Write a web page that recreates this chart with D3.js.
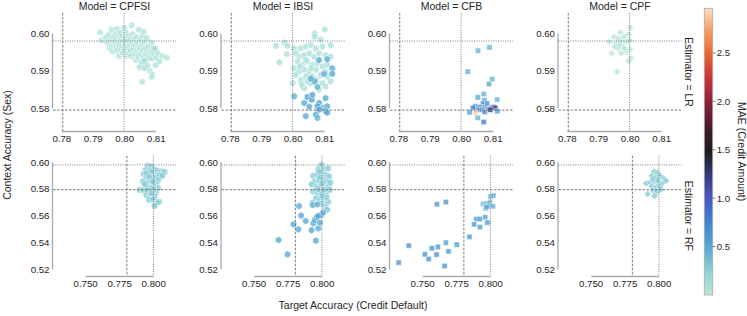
<!DOCTYPE html>
<html>
<head>
<meta charset="utf-8">
<script src="https://cdn.jsdelivr.net/npm/d3@7"></script>
<style>
  body { margin: 0; background: #fff; }
  text { font-family: "Liberation Sans", Arial, sans-serif; fill: #262626; }
</style>
</head>
<body>
<svg id="chart" width="747" height="316"></svg>
<script>
// ---- data ----
const models = ["CPFSI", "IBSI", "CFB", "CPF"];
const estimators = ["LR", "RF"];
const xTicksLR = [0.78, 0.79, 0.80, 0.81];
const yTicksLR = [0.58, 0.59, 0.60];
const xTicksRF = [0.750, 0.775, 0.800];
const yTicksRF = [0.52, 0.54, 0.56, 0.58, 0.60];
const refX = [0.7803, 0.7998];   // first dashed, second dotted
const refY = [0.5795, 0.598];    // first dashed, second dotted
const maeTicks = [0.5, 1.0, 1.5, 2.0, 2.5];

// [target accuracy, context accuracy, MAE]
const cpfsiLR = [
  [0.7922,0.6003,.05],[0.7927,0.5982,.05],[0.7940,0.5990,.05],[0.7945,0.5975,.05],[0.7950,0.5996,.05],
  [0.7952,0.5962,.05],[0.7955,0.5985,.05],[0.7958,0.6010,.05],[0.7960,0.5970,.05],[0.7962,0.5952,.05],
  [0.7965,0.5990,.05],[0.7967,0.5978,.05],[0.7970,0.5998,.05],[0.7972,0.5965,.05],[0.7974,0.5985,.05],
  [0.7975,0.6012,.05],[0.7976,0.5955,.05],[0.7978,0.5975,.05],[0.7980,0.5995,.05],[0.7982,0.5940,.05],
  [0.7983,0.5968,.05],[0.7985,0.6003,.05],[0.7986,0.5985,.05],[0.7988,0.5958,.05],[0.7990,0.5975,.05],
  [0.7992,0.5992,.05],[0.7994,0.5948,.05],[0.7995,0.5965,.05],[0.7997,0.5982,.05],[0.7998,0.6015,.05],
  [0.8000,0.5955,.05],[0.8002,0.5972,.05],[0.8003,0.5990,.05],[0.8005,0.6002,.05],[0.8006,0.5940,.05],
  [0.8008,0.5962,.05],[0.8010,0.5980,.05],[0.8012,0.5948,.05],[0.8013,0.5993,.05],[0.8015,0.5968,.05],
  [0.8017,0.5985,.05],[0.8018,0.5955,.05],[0.8020,0.5940,.05],[0.8022,0.6022,.05],[0.8023,0.5975,.05],
  [0.8025,0.5998,.05],[0.8027,0.5960,.05],[0.8030,0.5985,.05],[0.8032,0.5945,.05],[0.8033,0.5970,.05],
  [0.8035,0.5930,.05],[0.8037,0.5990,.05],[0.8040,0.5955,.05],[0.8042,0.5975,.05],[0.8043,0.5938,.05],
  [0.8045,0.6010,.05],[0.8047,0.5962,.05],[0.8050,0.5985,.05],[0.8052,0.5945,.05],[0.8053,0.5925,.05],
  [0.8055,0.5970,.05],[0.8055,0.5917,.05],[0.8057,0.5995,.05],[0.8058,0.5955,.05],[0.8060,0.6005,.05],
  [0.8060,0.5935,.05],[0.8062,0.5978,.05],[0.8064,0.5926,.2],[0.8064,0.5908,.2],[0.8055,0.5871,.05],
  [0.8066,0.5960,.05],[0.8068,0.5945,.05],[0.8070,0.5988,.05],[0.8072,0.5915,.05],[0.8075,0.5965,.05],
  [0.8078,0.5935,.05],[0.8080,0.5900,.05],[0.8082,0.5952,.05],[0.8085,0.5975,.05],[0.8086,0.5933,.05],
  [0.8088,0.5890,.05],[0.8090,0.5960,.05],[0.8092,0.5945,.05],[0.8096,0.5959,.2],[0.8100,0.5935,.05],
  [0.8105,0.5948,.05],[0.8110,0.5925,.05],[0.8120,0.5940,.05],[0.8134,0.5935,.05],[0.8098,0.5915,.05],
  [0.8048,0.5910,.05],[0.8086,0.5884,.05]
];
const ibsiLR = [
  [0.8100,0.6011,.08],[0.8068,0.6000,.08],[0.8068,0.5991,.08],[0.8087,0.5984,.08],[0.7945,0.5967,.08],
  [0.7972,0.5976,.08],[0.7982,0.5967,.08],[0.7956,0.5923,.08],[0.7980,0.5945,.08],[0.8003,0.5960,.08],
  [0.8008,0.5947,.08],[0.8024,0.5960,.08],[0.8040,0.5965,.08],[0.8056,0.5969,.08],[0.8072,0.5960,.08],
  [0.8093,0.5965,.08],[0.8119,0.5969,.08],[0.8019,0.5938,.08],[0.8035,0.5942,.08],[0.8051,0.5947,.08],
  [0.8066,0.5938,.08],[0.8082,0.5947,.08],[0.8103,0.5942,.08],[0.8119,0.5938,.08],[0.8014,0.5925,.08],
  [0.8029,0.5916,.08],[0.8045,0.5925,.08],[0.8061,0.5916,.08],[0.8077,0.5920,.08],[0.8093,0.5912,.08],
  [0.8108,0.5916,.08],[0.8003,0.5907,.08],[0.8019,0.5898,.08],[0.8035,0.5903,.08],[0.8051,0.5894,.08],
  [0.8072,0.5903,.08],[0.8087,0.5889,.08],[0.8108,0.5885,.08],[0.8119,0.5872,.08],[0.7998,0.5867,.08],
  [0.8024,0.5876,.08],[0.8040,0.5885,.08],[0.8056,0.5867,.08],[0.8093,0.5867,.08],[0.8103,0.5858,.08],
  [0.8035,0.5854,.08],[0.8082,0.5850,.08],[0.8008,0.5889,.08],[0.8061,0.5885,.08],[0.8045,0.5872,.08],
  [0.8027,0.5863,.08],[0.8074,0.5876,.08],[0.8101,0.5898,.08],[0.8056,0.5907,.08],[0.8040,0.5929,.08],
  [0.8021,0.5912,.08],
  [0.8082,0.5929,.5],[0.8108,0.5931,.5],[0.8124,0.5907,.5],[0.8124,0.5892,.5],[0.8098,0.5892,.45],
  [0.8068,0.5872,.5],[0.8077,0.5857,.45],[0.8056,0.5879,.5],[0.8003,0.5832,.45],[0.8045,0.5830,.55],
  [0.8059,0.5823,.55],[0.8035,0.5814,.5],[0.8061,0.5836,.5],[0.8082,0.5814,.55],[0.8103,0.5827,.5],
  [0.8077,0.5805,.55],[0.8095,0.5801,.5],[0.8108,0.5805,.5],[0.8103,0.5792,.55],[0.8082,0.5796,.55],
  [0.8072,0.5783,.5],[0.8040,0.5779,.5],[0.8077,0.5774,.45],[0.8108,0.5788,.5],[0.8051,0.5804,.5]
];
const cfbLR = [
  [0.8052,0.5954,.45],[0.8088,0.5963,.45],[0.8019,0.5898,.45],[0.8097,0.5878,.45],[0.8087,0.5865,.5],
  [0.8070,0.5838,.45],[0.8051,0.5829,.5],[0.8072,0.5821,.55],[0.8113,0.5823,.45],[0.8068,0.5812,.7],
  [0.8043,0.5805,.75],[0.8057,0.5803,.7],[0.8075,0.5803,.85],[0.8036,0.5801,.75],[0.8054,0.5796,.7],
  [0.8086,0.5798,.8],[0.8097,0.5801,1.2],[0.8102,0.5803,1.25],[0.8107,0.5801,1.1],[0.8091,0.5796,1.2],
  [0.8065,0.5796,.55],[0.8025,0.5789,.55],[0.8043,0.5788,2.9],[0.8113,0.5792,.55],[0.8051,0.5774,.45],
  [0.8070,0.5763,.8],[0.8073,0.5790,.65],[0.8081,0.5813,.6]
];
const cpfLR = [
  [0.8000,0.6016,.03],[0.7969,0.6003,.03],[0.7995,0.5998,.03],[0.7948,0.5991,.03],[0.7934,0.5978,.03],
  [0.7961,0.5987,.03],[0.7980,0.5991,.03],[0.7971,0.5978,.03],[0.7955,0.5973,.03],[0.7987,0.5978,.03],
  [0.7998,0.5982,.03],[0.7976,0.5965,.03],[0.7962,0.5960,.03],[0.7941,0.5947,.03],[0.8000,0.5958,.03],
  [0.7987,0.5951,.03],[0.7971,0.5947,.03],[0.8002,0.5934,.03],[0.7995,0.5927,.03],[0.7959,0.5898,.03],
  [0.7966,0.5969,.03],[0.7982,0.5960,.03],[0.7950,0.5965,.03]
];
const cpfsiRF = [
  [0.7959,0.5973,.28],[0.7983,0.5968,.28],[0.7941,0.5943,.28],[0.7971,0.5938,.28],[0.8000,0.5948,.28],
  [0.8024,0.5938,.28],[0.8056,0.5930,.28],[0.8080,0.5928,.28],[0.7927,0.5913,.28],[0.7959,0.5905,.28],
  [0.7990,0.5913,.28],[0.8020,0.5898,.28],[0.8044,0.5905,.28],[0.7946,0.5880,.28],[0.7976,0.5873,.28],
  [0.8007,0.5880,.28],[0.8032,0.5868,.28],[0.7922,0.5856,.28],[0.7959,0.5848,.28],[0.7990,0.5843,.28],
  [0.8020,0.5838,.28],[0.7941,0.5818,.28],[0.7971,0.5813,.28],[0.8000,0.5823,.28],[0.8032,0.5806,.28],
  [0.7898,0.5793,.28],[0.7927,0.5788,.28],[0.7959,0.5781,.28],[0.7990,0.5788,.28],[0.8015,0.5773,.28],
  [0.7946,0.5756,.28],[0.7976,0.5748,.28],[0.8007,0.5743,.28],[0.7966,0.5719,.28],[0.7995,0.5724,.28],
  [0.8020,0.5694,.28],[0.8039,0.5704,.28],[0.8007,0.5674,.28],[0.7983,0.5930,.28],[0.7946,0.5918,.28],
  [0.7995,0.5856,.28],[0.7934,0.5838,.28],[0.7983,0.5806,.28],[0.7966,0.5893,.28],[0.8000,0.5798,.28],
  [0.7951,0.5793,.28],[0.8063,0.5898,.28],[0.7983,0.5768,.28]
];
const ibsiRF = [
  [0.7995,0.5980,.28],[0.7971,0.5948,.28],[0.8012,0.5948,.28],[0.8044,0.5955,.28],[0.7934,0.5898,.28],
  [0.7964,0.5905,.28],[0.7995,0.5918,.28],[0.8027,0.5905,.28],[0.8051,0.5893,.28],[0.7946,0.5855,.28],
  [0.7978,0.5863,.28],[0.8007,0.5873,.28],[0.8036,0.5855,.28],[0.7922,0.5835,.28],[0.7959,0.5818,.28],
  [0.7988,0.5823,.28],[0.8019,0.5806,.28],[0.8046,0.5818,.28],[0.7934,0.5781,.28],[0.7966,0.5768,.28],
  [0.7998,0.5773,.28],[0.8027,0.5763,.28],[0.7954,0.5731,.28],[0.7983,0.5723,.28],[0.8012,0.5718,.28],
  [0.8044,0.5706,.28],[0.7930,0.5698,.3],[0.8024,0.5668,.3],[0.8036,0.5644,.3],[0.7995,0.5688,.28],
  [0.7978,0.5930,.28],[0.8000,0.5840,.28],[0.7971,0.5798,.28],[0.8031,0.5738,.28],[0.8061,0.5848,.28],
  [0.7983,0.5888,.28],[0.8014,0.5793,.28],[0.7946,0.5681,.3],[0.8000,0.5748,.28],[0.8056,0.5793,.28],
  [0.7680,0.5419,.5],[0.7745,0.5312,.5],[0.7830,0.5673,.5],[0.7845,0.5601,.5],[0.7789,0.5536,.5],
  [0.7825,0.5499,.5],[0.7879,0.5561,.5],[0.7922,0.5492,.5],[0.7934,0.5544,.5],[0.7946,0.5569,.5],
  [0.7959,0.5589,.5],[0.7971,0.5506,.5],[0.7954,0.5414,.5],[0.7983,0.5549,.5],[0.7995,0.5606,.45],
  [0.8007,0.5624,.45],[0.7930,0.5681,.45],[0.7964,0.5686,.45],[0.7971,0.5599,.5]
];
const cfbRF = [
  [0.7324,0.5250,.62],[0.7398,0.5377,.62],[0.7517,0.5312,.62],[0.7544,0.5277,.62],[0.7568,0.5357,.62],
  [0.7602,0.5310,.62],[0.7612,0.5367,.62],[0.7605,0.5686,.62],[0.7671,0.5703,.62],[0.7661,0.5225,.62],
  [0.7671,0.5399,.58],[0.7690,0.5334,.58],[0.7751,0.5384,.58],[0.7844,0.5442,.58],[0.7878,0.5536,.58],
  [0.7895,0.5576,.58],[0.7920,0.5576,.58],[0.7920,0.5516,.58],[0.7959,0.5589,.55],[0.7976,0.5549,.55],
  [0.7944,0.5688,.45],[0.7963,0.5688,.45],[0.7978,0.5693,.45],[0.7995,0.5698,.45],[0.7988,0.5676,.5],
  [0.7963,0.5656,.5],[0.8000,0.5743,.45],[0.8020,0.5751,.45],[0.8017,0.5671,.45],[0.7971,0.5666,.5]
];
const cpfRF = [
  [0.7963,0.5930,.28],[0.7988,0.5918,.28],[0.7946,0.5898,.28],[0.7978,0.5888,.28],[0.8007,0.5898,.28],
  [0.8032,0.5880,.28],[0.7905,0.5843,.28],[0.7934,0.5848,.28],[0.7963,0.5855,.28],[0.7995,0.5848,.28],
  [0.8022,0.5843,.28],[0.8051,0.5863,.28],[0.7946,0.5818,.28],[0.7978,0.5813,.28],[0.8007,0.5818,.28],
  [0.7956,0.5788,.28],[0.7985,0.5781,.28],[0.7915,0.5763,.28],[0.7966,0.5748,.28],[0.7954,0.5873,.28],
  [0.7988,0.5868,.28],[0.8012,0.5796,.28]
];

const panelData = {
  LR: { CPFSI: cpfsiLR, IBSI: ibsiLR, CFB: cfbLR, CPF: cpfLR },
  RF: { CPFSI: cpfsiRF, IBSI: ibsiRF, CFB: cfbRF, CPF: cpfRF }
};

// ---- icefire-like colour map ----
const iceAt = [0, 0.08, 0.17, 0.25, 0.33, 0.42, 0.50, 0.58, 0.67, 0.76, 0.85, 0.93, 1];
const iceColors = ["#bde7db", "#8fd3d7", "#55a8d2", "#3f86d2", "#4a5bc8", "#35397a", "#1c1b20",
                   "#431a2a", "#8a1f3a", "#cc343a", "#ef6b2c", "#f6a26b", "#fde0c6"];
const iceInterp = d3.scaleLinear().domain(iceAt).range(iceColors).interpolate(d3.interpolateRgb);
const color = d3.scaleSequential(t => iceInterp(t)).domain([0, 2.96]);

// ---- layout ----
const svg = d3.select("#chart");
const panelW = 123, colStep = 168.5, left0 = 53;
const rows = [
  { top: 13, bottom: 131, xDom: [0.7772, 0.8163], yDom: [0.5739, 0.6055],
    xTicks: xTicksLR, yTicks: yTicksLR, fx: d3.format(".2f"), fy: d3.format(".2f") },
  { top: 155.7, bottom: 276, xDom: [0.7260, 0.8164], yDom: [0.5150, 0.6049],
    xTicks: xTicksRF, yTicks: yTicksRF, fx: d3.format(".3f"), fy: d3.format(".2f") }
];

const symbolHex = {
  draw(ctx, size) {
    const r = Math.sqrt(2 * size / (3 * Math.sqrt(3)));
    for (let i = 0; i < 6; i++) {
      const a = -Math.PI / 2 + i * Math.PI / 3;
      if (i === 0) ctx.moveTo(r * Math.cos(a), r * Math.sin(a));
      else ctx.lineTo(r * Math.cos(a), r * Math.sin(a));
    }
    ctx.closePath();
  }
};
const markers = {
  CPFSI: { type: d3.symbolCircle, size: 34, rot: 0 },
  IBSI: { type: symbolHex, size: 34, rot: 0 },
  CFB: { type: d3.symbolSquare, size: 28, rot: 0 },
  CPF: { type: d3.symbolSquare, size: 26, rot: 45 }
};

const spineColor = "#aaaaaa", refColor = "#7a7a7a";

estimators.forEach((est, r) => {
  const row = rows[r];
  models.forEach((model, c) => {
    const left = left0 + c * colStep;
    const x = d3.scaleLinear().domain(row.xDom).range([left, left + panelW]);
    const y = d3.scaleLinear().domain(row.yDom).range([row.bottom, row.top]);
    const g = svg.append("g");

    // trimmed spines
    g.append("line")
      .attr("x1", left - 0.5).attr("x2", left - 0.5)
      .attr("y1", y(d3.min(row.yTicks))).attr("y2", y(d3.max(row.yTicks)))
      .attr("stroke", spineColor).attr("stroke-width", 1.3);
    g.append("line")
      .attr("y1", row.bottom + 0.5).attr("y2", row.bottom + 0.5)
      .attr("x1", x(d3.min(row.xTicks))).attr("x2", x(d3.max(row.xTicks)))
      .attr("stroke", spineColor).attr("stroke-width", 1.3);

    g.selectAll(".yt").data(row.yTicks).enter().append("text")
      .attr("x", left - 3.5).attr("y", d => y(d)).attr("dy", "0.35em")
      .attr("text-anchor", "end").attr("font-size", 9.7)
      .text(row.fy);
    g.selectAll(".xt").data(row.xTicks).enter().append("text")
      .attr("x", d => x(d)).attr("y", row.bottom + 11)
      .attr("text-anchor", "middle").attr("font-size", 9.7)
      .text(row.fx);

    // points
    const mk = markers[model];
    const sym = d3.symbol().type(mk.type).size(mk.size);
    g.append("g").selectAll("path").data(panelData[est][model]).enter().append("path")
      .attr("d", sym)
      .attr("transform", d => `translate(${x(d[0])},${y(d[1])}) rotate(${mk.rot})`)
      .attr("fill", d => color(d[2]))
      .attr("fill-opacity", 0.78)
      .attr("stroke", "#fff").attr("stroke-width", 0.5);

    // reference lines (drawn on top of points)
    refX.forEach((v, i) => {
      g.append("line")
        .attr("x1", x(v)).attr("x2", x(v)).attr("y1", row.top).attr("y2", row.bottom)
        .attr("stroke", refColor).attr("stroke-width", 1)
        .attr("stroke-dasharray", i === 0 ? "2.5,1.5" : "1,1.4");
    });
    refY.forEach((v, i) => {
      g.append("line")
        .attr("y1", y(v)).attr("y2", y(v)).attr("x1", left).attr("x2", left + panelW)
        .attr("stroke", refColor).attr("stroke-width", 1)
        .attr("stroke-dasharray", i === 0 ? "2.5,1.5" : "1,1.4");
    });

    if (r === 0) {
      svg.append("text")
        .attr("x", left + panelW / 2).attr("y", 10)
        .attr("text-anchor", "middle").attr("font-size", 10.5)
        .text(`Model = ${model}`);
    }
  });
  svg.append("text")
    .attr("transform", `translate(684.5,${(row.top + row.bottom) / 2}) rotate(90)`)
    .attr("text-anchor", "middle").attr("font-size", 10.5)
    .text(`Estimator = ${est}`);
});

// axis labels
svg.append("text")
  .attr("x", 353).attr("y", 309)
  .attr("text-anchor", "middle").attr("font-size", 10.5)
  .text("Target Accuracy (Credit Default)");
svg.append("text")
  .attr("transform", "translate(10.5,145) rotate(-90)")
  .attr("text-anchor", "middle").attr("font-size", 10.5)
  .text("Context Accuracy (Sex)");

// ---- colour bar ----
const cbX = 704.3, cbW = 8.4, cbTop = 8.3, cbBottom = 295;
const cbScale = d3.scaleLinear().domain(color.domain()).range([cbBottom, cbTop]);
const grad = svg.append("defs").append("linearGradient")
  .attr("id", "icefire").attr("x1", 0).attr("x2", 0).attr("y1", 1).attr("y2", 0);
d3.range(0, 1.0001, 0.02).forEach(t => {
  grad.append("stop").attr("offset", t).attr("stop-color", iceInterp(t));
});
svg.append("rect")
  .attr("x", cbX).attr("y", cbTop).attr("width", cbW).attr("height", cbBottom - cbTop)
  .attr("fill", "url(#icefire)").attr("stroke", "#aaa").attr("stroke-width", 0.8);
const cbAxis = svg.append("g").attr("transform", `translate(${cbX + cbW},0)`);
cbAxis.selectAll("line").data(maeTicks).enter().append("line")
  .attr("x1", 0).attr("x2", 2.5).attr("y1", d => cbScale(d)).attr("y2", d => cbScale(d))
  .attr("stroke", "#555").attr("stroke-width", 0.8);
cbAxis.selectAll("text").data(maeTicks).enter().append("text")
  .attr("x", 4).attr("y", d => cbScale(d)).attr("dy", "0.35em")
  .attr("font-size", 9.7)
  .text(d3.format(".1f"));
svg.append("text")
  .attr("transform", `translate(737.5,${(cbTop + cbBottom) / 2}) rotate(90)`)
  .attr("text-anchor", "middle").attr("font-size", 10.5)
  .text("MAE (Credit Amount)");
</script>
</body>
</html>
